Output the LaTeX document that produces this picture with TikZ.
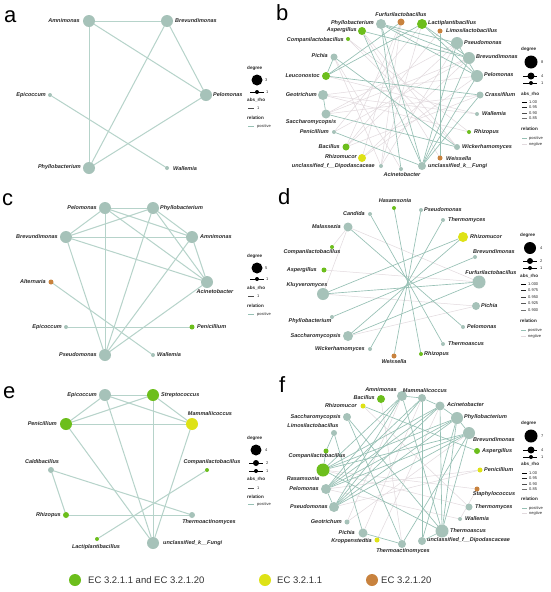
\documentclass[tikz,border=0pt]{standalone}
\usepackage{fontspec}
\setmainfont{Liberation Sans}
\usetikzlibrary{backgrounds}
\definecolor{ngrey}{RGB}{166,194,185}
\definecolor{ngreen}{RGB}{108,190,28}
\definecolor{nyellow}{RGB}{222,226,22}
\definecolor{norange}{RGB}{200,130,62}
\definecolor{epc}{RGB}{182,211,202}
\definecolor{epd}{RGB}{150,192,180}
\definecolor{eneg}{RGB}{226,218,222}
\definecolor{ltext}{RGB}{40,40,40}
\newcommand\mytaxon[9]{\node[#4, minimum size=#5pt] (#1) at (#2,#3) {}; \node[lbl, anchor=#6] (#1-l) at (#7,#8) {#9};}
\tikzset{
 nd/.style={circle, inner sep=0pt, outer sep=0pt, draw=none},
 ngr/.style={nd, fill=ngrey},
 ngn/.style={nd, fill=ngreen},
 nye/.style={nd, fill=nyellow},
 nor/.style={nd, fill=norange},
 nbk/.style={nd, fill=black},
 lbl/.style={inner sep=0pt, font=\fontsize{5.5}{6}\selectfont\bfseries\itshape, text=ltext},
 e1/.style={draw=epc, line width=1pt},
 ep/.style={draw=epd, line width=0.65pt},
 en/.style={draw=eneg, line width=0.5pt},
 legt/.style={inner sep=0pt, anchor=west, font=\fontsize{4.6}{5}\selectfont\bfseries, text=ltext},
 legn/.style={inner sep=0pt, anchor=west, font=\fontsize{4}{4.5}\selectfont, text=ltext},
 plet/.style={inner sep=0pt, anchor=base west, font=\fontsize{22}{22}\selectfont},
 ecl/.style={inner sep=0pt, anchor=west, font=\fontsize{9.5}{10}\selectfont, text=black!80},
}
\begin{document}
\begin{tikzpicture}[x=1pt, y=-1pt]
\useasboundingbox (0,0) rectangle (550,592);
% panel letters
\node[plet] (La) at (4,22) {a};
\node[plet] (Lb) at (276,20) {b};
\node[plet] (Lc) at (2,205) {c};
\node[plet] (Ld) at (278,204) {d};
\node[plet] (Le) at (3,398) {e};
\node[plet] (Lf) at (279,392) {f};

% ---------------- panel a
\mytaxon{a-amn}{89}{21}{ngr}{12}{east}{80}{21}{Amnimonas}
\mytaxon{a-bre}{167}{21}{ngr}{12}{west}{175}{21}{Brevundimonas}
\mytaxon{a-pel}{206}{95}{ngr}{12}{west}{213}{95}{Pelomonas}
\mytaxon{a-epi}{50}{95}{ngr}{4}{east}{46}{95}{Epicoccum}
\mytaxon{a-phy}{89}{168}{ngr}{12}{east}{81}{167}{Phyllobacterium}
\mytaxon{a-wal}{167}{168}{ngr}{4}{west}{173}{169}{Wallemia}

% ---------------- panel b
\mytaxon{b-phy}{381}{24}{ngr}{10}{east}{374}{23}{Phyllobacterium}
\mytaxon{b-fur}{401}{22}{nor}{7}{center}{401}{15}{Furfurilactobacillus}
\mytaxon{b-lac}{422}{24}{ngn}{10}{west}{428}{23}{Lactiplantibacillus}
\mytaxon{b-lim}{440}{31}{nor}{5}{west}{446}{31}{Limosilactobacillus}
\mytaxon{b-pse}{457}{43}{ngr}{12}{west}{464}{43}{Pseudomonas}
\mytaxon{b-bre}{469}{58}{ngr}{12}{west}{476}{57}{Brevundimonas}
\mytaxon{b-pel}{477}{76}{ngr}{12}{west}{484}{75}{Pelomonas}
\mytaxon{b-cra}{480}{95}{ngr}{7}{west}{485}{95}{Crassifilum}
\mytaxon{b-wal}{477}{114}{ngr}{4}{west}{482}{114}{Wallemia}
\mytaxon{b-rhp}{469}{132}{ngn}{4}{west}{474}{132}{Rhizopus}
\mytaxon{b-wic}{457}{147}{ngr}{6}{west}{462}{147}{Wickerhamomyces}
\mytaxon{b-wei}{440}{158}{nor}{5}{west}{446}{159}{Weissella}
\mytaxon{b-fun}{422}{166}{ngr}{8}{west}{428}{166}{unclassified\_k\_\_Fungi}
\mytaxon{b-aci}{401}{169}{ngr}{4}{center}{402}{175}{Acinetobacter}
\mytaxon{b-dip}{381}{166}{ngr}{4}{east}{375}{166}{unclassified\_f\_\_Dipodascaceae}
\mytaxon{b-rhm}{362}{158}{nye}{8}{east}{357}{157}{Rhizomucor}
\mytaxon{b-bac}{346}{147}{ngn}{7}{east}{340}{147}{Bacillus}
\mytaxon{b-pen}{334}{132}{ngr}{4}{east}{329}{132}{Penicillium}
\mytaxon{b-sac}{326}{114}{ngr}{9}{center}{311}{122}{Saccharomycopsis}
\mytaxon{b-geo}{323}{95}{ngr}{10}{east}{317}{95}{Geotrichum}
\mytaxon{b-leu}{326}{76}{ngn}{8}{east}{320}{76}{Leuconostoc}
\mytaxon{b-pic}{334}{57}{ngr}{7}{east}{328}{56}{Pichia}
\mytaxon{b-com}{348}{39}{ngn}{4}{east}{344}{40}{Companilactobacillus}
\mytaxon{b-asp}{362}{31}{ngn}{8}{east}{357}{30}{Aspergillus}

% ---------------- panel c
\mytaxon{c-pel}{105}{208}{ngr}{12}{east}{97}{208}{Pelomonas}
\mytaxon{c-phy}{153}{208}{ngr}{12}{west}{160}{208}{Phyllobacterium}
\mytaxon{c-bre}{66}{237}{ngr}{12}{east}{58}{237}{Brevundimonas}
\mytaxon{c-amn}{192}{237}{ngr}{12}{west}{200}{237}{Amnimonas}
\mytaxon{c-aci}{207}{282}{ngr}{12}{center}{215}{292}{Acinetobacter}
\mytaxon{c-alt}{51}{282}{nor}{5}{east}{46}{282}{Alternaria}
\mytaxon{c-epi}{66}{327}{ngr}{4}{east}{62}{327}{Epicoccum}
\mytaxon{c-pen}{192}{327}{ngn}{5}{west}{197}{327}{Penicillium}
\mytaxon{c-pse}{105}{355}{ngr}{12}{east}{97}{355}{Pseudomonas}
\mytaxon{c-wal}{153}{355}{ngr}{4}{west}{157}{355}{Wallemia}

% ---------------- panel d
\mytaxon{d-has}{394}{208}{ngn}{4}{center}{395}{201}{Hasamsonia}
\mytaxon{d-can}{370}{214}{ngr}{4}{east}{365}{214}{Candida}
\mytaxon{d-mal}{348}{227}{ngr}{9}{east}{341}{227}{Malassezia}
\mytaxon{d-com}{332}{247}{ngn}{4}{center}{312}{252}{Companilactobacillus}
\mytaxon{d-asp}{324}{270}{ngn}{5}{east}{317}{270}{Aspergillus}
\mytaxon{d-klu}{323}{294}{ngr}{12}{center}{307}{285}{Kluyveromyces}
\mytaxon{d-phy}{332}{317}{ngr}{4}{center}{310}{321}{Phyllobacterium}
\mytaxon{d-sac}{348}{336}{ngr}{10}{east}{341}{336}{Saccharomycopsis}
\mytaxon{d-wic}{370}{349}{ngr}{4}{east}{365}{349}{Wickerhamomyces}
\mytaxon{d-wei}{394}{356}{nor}{5}{center}{394}{362}{Weissella}
\mytaxon{d-pse}{421}{210}{ngr}{4}{west}{424}{210}{Pseudomonas}
\mytaxon{d-thy}{443}{220}{ngr}{4}{west}{448}{220}{Thermomyces}
\mytaxon{d-rhm}{463}{237}{nye}{10}{west}{470}{237}{Rhizomucor}
\mytaxon{d-bre}{475}{257}{ngr}{4}{center}{494}{252}{Brevundimonas}
\mytaxon{d-fur}{479}{282}{ngr}{13}{center}{491}{273}{Furfurilactobacillus}
\mytaxon{d-pic}{476}{306}{ngr}{8}{west}{481}{306}{Pichia}
\mytaxon{d-pel}{463}{327}{ngr}{4}{west}{467}{327}{Pelomonas}
\mytaxon{d-tha}{443}{344}{ngr}{4}{west}{448}{344}{Thermoascus}
\mytaxon{d-rhp}{421}{354}{ngn}{4}{west}{424}{354}{Rhizopus}

% ---------------- panel e
\mytaxon{e-epi}{105}{395}{ngr}{12}{east}{97}{395}{Epicoccum}
\mytaxon{e-str}{153}{395}{ngn}{12}{west}{161}{395}{Streptococcus}
\mytaxon{e-pen}{66}{424}{ngn}{12}{east}{57}{424}{Penicillium}
\mytaxon{e-mam}{192}{424}{nye}{12}{center}{210}{414}{Mammaliicoccus}
\mytaxon{e-cal}{51}{470}{ngr}{6}{center}{42}{462}{Caldibacillus}
\mytaxon{e-com}{207}{470}{ngn}{4}{center}{212}{462}{Companilactobacillus}
\mytaxon{e-rhp}{66}{515}{ngn}{6}{east}{61}{515}{Rhizopus}
\mytaxon{e-the}{192}{515}{ngr}{6}{center}{209}{522}{Thermoactinomyces}
\mytaxon{e-lac}{97}{539}{ngn}{4}{center}{96}{547}{Lactiplantibacillus}
\mytaxon{e-fun}{153}{543}{ngr}{12}{west}{163}{543}{unclassified\_k\_\_Fungi}

% ---------------- panel f
\mytaxon{f-amn}{402}{396}{ngr}{10}{center}{381}{390}{Amnimonas}
\mytaxon{f-bac}{381}{399}{ngn}{8}{east}{375}{398}{Bacillus}
\mytaxon{f-rhm}{363}{406}{nye}{5}{east}{357}{406}{Rhizomucor}
\mytaxon{f-sac}{347}{417}{ngr}{8}{east}{341}{417}{Saccharomycopsis}
\mytaxon{f-lim}{334}{433}{ngr}{6}{center}{313}{426}{Limosilactobacillus}
\mytaxon{f-com}{326}{451}{ngn}{5}{center}{317}{456}{Companilactobacillus}
\mytaxon{f-ras}{323}{470}{ngn}{13}{center}{303}{479}{Rasamsonia}
\mytaxon{f-pel}{326}{489}{ngr}{10}{east}{319}{489}{Pelomonas}
\mytaxon{f-pse}{334}{507}{ngr}{10}{east}{328}{507}{Pseudomonas}
\mytaxon{f-geo}{347}{522}{ngr}{5}{east}{342}{522}{Geotrichum}
\mytaxon{f-pic}{363}{533}{ngr}{9}{east}{355}{533}{Pichia}
\mytaxon{f-kro}{377}{540}{nye}{5}{east}{372}{541}{Kroppenstedtia}
\mytaxon{f-tac}{402}{544}{ngr}{8}{center}{403}{551}{Thermoactinomyces}
\mytaxon{f-dip}{422}{541}{ngr}{8}{west}{427}{540}{unclassified\_f\_\_Dipodascaceae}
\mytaxon{f-tas}{442}{531}{ngr}{13}{west}{450}{531}{Thermoascus}
\mytaxon{f-wal}{460}{519}{ngr}{4}{west}{465}{519}{Wallemia}
\mytaxon{f-thy}{469}{507}{ngr}{7}{west}{475}{507}{Thermomyces}
\mytaxon{f-sta}{477}{489}{nor}{5}{center}{494}{494}{Staphylococcus}
\mytaxon{f-pen}{480}{470}{nye}{5}{west}{484}{470}{Penicillium}
\mytaxon{f-asp}{477}{451}{ngn}{6}{west}{482}{451}{Aspergillus}
\mytaxon{f-bre}{469}{433}{ngr}{12}{center}{494}{440}{Brevundimonas}
\mytaxon{f-phy}{457}{418}{ngr}{12}{west}{464}{417}{Phyllobacterium}
\mytaxon{f-aci}{440}{406}{ngr}{9}{west}{447}{405}{Acinetobacter}
\mytaxon{f-mam}{422}{398}{ngr}{8}{center}{425}{391}{Mammaliicoccus}

% ---------------- legends type 1 (a, c, e)
% a
\node[legt] (a-g1) at (247,68) {degree};
\node[nbk, minimum size=11pt] (a-g2) at (257,80) {};
\node[legn] (a-g3) at (265,80) {3};
\draw[black, line width=0.6pt] (250,92) -- (264,92);
\node[nbk, minimum size=4pt] (a-g4) at (257,92) {};
\node[legn] (a-g5) at (266,92) {1};
\node[legt] (a-g6) at (247,100) {abs\_rho};
\draw[black!70, line width=0.5pt] (248,108) -- (254,108);
\node[legn] (a-g7) at (257,108) {1};
\node[legt] (a-g8) at (247,118) {relation};
\draw[epd, line width=0.6pt] (248,126) -- (254,126);
\node[legn] (a-g9) at (257,126) {positive};
% c
\node[legt] (c-g1) at (247,256) {degree};
\node[nbk, minimum size=11pt] (c-g2) at (257,268) {};
\node[legn] (c-g3) at (265,268) {5};
\draw[black, line width=0.6pt] (250,279) -- (264,279);
\node[nbk, minimum size=4pt] (c-g4) at (257,279) {};
\node[legn] (c-g5) at (266,279) {1};
\node[legt] (c-g6) at (247,288) {abs\_rho};
\draw[black!70, line width=0.5pt] (248,296) -- (254,296);
\node[legn] (c-g7) at (257,296) {1};
\node[legt] (c-g8) at (247,306) {relation};
\draw[epd, line width=0.6pt] (248,314) -- (254,314);
\node[legn] (c-g9) at (257,314) {positive};
% e
\node[legt] (e-g1) at (247,438) {degree};
\node[nbk, minimum size=11pt] (e-g2) at (256,450) {};
\node[legn] (e-g3) at (265,450) {4};
\draw[black, line width=0.6pt] (249,463) -- (263,463);
\node[nbk, minimum size=6pt] (e-g4) at (256,463) {};
\node[legn] (e-g5) at (266,463) {2};
\draw[black, line width=0.6pt] (249,471) -- (263,471);
\node[nbk, minimum size=4pt] (e-g4b) at (256,471) {};
\node[legn] (e-g5b) at (266,471) {1};
\node[legt] (e-g6) at (247,479) {abs\_rho};
\draw[black!70, line width=0.5pt] (248,488) -- (254,488);
\node[legn] (e-g7) at (257,488) {1};
\node[legt] (e-g8) at (247,497) {relation};
\draw[epd, line width=0.6pt] (248,504) -- (254,504);
\node[legn] (e-g9) at (257,504) {positive};

% ---------------- legends type 2 (b, d, f)
% b
\node[legt] (b-g1) at (521,49) {degree};
\node[nbk, minimum size=13pt] (b-g2) at (531,62) {};
\node[legn] (b-g3) at (541,62) {8};
\draw[black, line width=0.6pt] (523,76) -- (537,76);
\node[nbk, minimum size=7pt] (b-g4) at (531,76) {};
\node[legn] (b-g5) at (541,76) {4};
\draw[black, line width=0.6pt] (523,83) -- (537,83);
\node[nbk, minimum size=4pt] (b-g6) at (531,83) {};
\node[legn] (b-g7) at (541,83) {1};
\node[legt] (b-g8) at (521,94) {abs\_rho};
\draw[black, line width=0.9pt] (522,102) -- (527,102); \node[legn] (b-v1) at (529,102) {1.00};
\draw[black!85, line width=0.7pt] (522,107.5) -- (527,107.5); \node[legn] (b-v2) at (529,107.5) {0.95};
\draw[black!70, line width=0.5pt] (522,113) -- (527,113); \node[legn] (b-v3) at (529,113) {0.90};
\draw[black!55, line width=0.35pt] (522,118.5) -- (527,118.5); \node[legn] (b-v4) at (529,118.5) {0.85};
\node[legt] (b-g9) at (521,129) {relation};
\draw[epd, line width=0.6pt] (522,138) -- (527,138); \node[legn] (b-r1) at (529,138) {positive};
\draw[eneg, line width=0.6pt] (522,144) -- (527,144); \node[legn] (b-r2) at (529,144) {negtive};
% d
\node[legt] (d-g1) at (520,235) {degree};
\node[nbk, minimum size=12pt] (d-g2) at (530,248) {};
\node[legn] (d-g3) at (540,248) {4};
\draw[black, line width=0.6pt] (523,261) -- (537,261);
\node[nbk, minimum size=6pt] (d-g4) at (530,261) {};
\node[legn] (d-g5) at (540,261) {2};
\draw[black, line width=0.6pt] (523,268) -- (537,268);
\node[nbk, minimum size=4pt] (d-g6) at (530,268) {};
\node[legn] (d-g7) at (540,268) {1};
\node[legt] (d-g8) at (520,276) {abs\_rho};
\draw[black, line width=0.9pt] (521,284) -- (526,284); \node[legn] (d-v1) at (528,284) {1.000};
\draw[black!85, line width=0.75pt] (521,290.5) -- (526,290.5); \node[legn] (d-v2) at (528,290.5) {0.975};
\draw[black!75, line width=0.6pt] (521,297) -- (526,297); \node[legn] (d-v3) at (528,297) {0.950};
\draw[black!65, line width=0.45pt] (521,303.5) -- (526,303.5); \node[legn] (d-v4) at (528,303.5) {0.925};
\draw[black!55, line width=0.35pt] (521,310) -- (526,310); \node[legn] (d-v5) at (528,310) {0.900};
\node[legt] (d-g9) at (520,321) {relation};
\draw[epd, line width=0.6pt] (521,330) -- (526,330); \node[legn] (d-r1) at (528,330) {positive};
\draw[eneg, line width=0.6pt] (521,336) -- (526,336); \node[legn] (d-r2) at (528,336) {negtive};
% f
\node[legt] (f-g1) at (521,423) {degree};
\node[nbk, minimum size=13pt] (f-g2) at (531,436) {};
\node[legn] (f-g3) at (541,436) {7};
\draw[black, line width=0.6pt] (523,450) -- (537,450);
\node[nbk, minimum size=7pt] (f-g4) at (531,450) {};
\node[legn] (f-g5) at (541,450) {4};
\draw[black, line width=0.6pt] (523,457) -- (537,457);
\node[nbk, minimum size=4pt] (f-g6) at (531,457) {};
\node[legn] (f-g7) at (541,457) {1};
\node[legt] (f-g8) at (521,464) {abs\_rho};
\draw[black, line width=0.9pt] (522,473) -- (527,473); \node[legn] (f-v1) at (529,473) {1.00};
\draw[black!85, line width=0.7pt] (522,478.5) -- (527,478.5); \node[legn] (f-v2) at (529,478.5) {0.95};
\draw[black!70, line width=0.5pt] (522,484) -- (527,484); \node[legn] (f-v3) at (529,484) {0.90};
\draw[black!55, line width=0.35pt] (522,489.5) -- (527,489.5); \node[legn] (f-v4) at (529,489.5) {0.85};
\node[legt] (f-g9) at (521,499) {relation};
\draw[epd, line width=0.6pt] (522,508) -- (527,508); \node[legn] (f-r1) at (529,508) {positive};
\draw[eneg, line width=0.6pt] (522,513) -- (527,513); \node[legn] (f-r2) at (529,513) {negtive};

% ---------------- bottom legend
\node[ngn, minimum size=12pt] (k1) at (75,580) {};
\node[ecl] (k1t) at (88,580) {EC 3.2.1.1 and EC 3.2.1.20};
\node[nye, minimum size=12pt] (k2) at (265,580) {};
\node[ecl] (k2t) at (277,580) {EC 3.2.1.1};
\node[nor, minimum size=12pt] (k3) at (372,580) {};
\node[ecl] (k3t) at (381,580) {EC 3.2.1.20};

% ---------------- edges
\begin{scope}[on background layer]
\fill[white] (0,0) rectangle (550,592);
% a
\foreach \u/\v in {a-amn/a-bre, a-amn/a-pel, a-amn/a-phy, a-bre/a-pel, a-bre/a-phy, a-phy/a-pel, a-epi/a-wal}
  \draw[e1] (\u) -- (\v);
% c
\foreach \u/\v in {c-pel/c-phy, c-pel/c-bre, c-pel/c-amn, c-pel/c-aci, c-pel/c-pse,
  c-phy/c-bre, c-phy/c-amn, c-phy/c-aci, c-phy/c-pse, c-bre/c-amn, c-bre/c-aci, c-bre/c-pse,
  c-amn/c-aci, c-amn/c-pse, c-aci/c-pse, c-alt/c-wal, c-epi/c-pen}
  \draw[e1] (\u) -- (\v);
% e
\foreach \u/\v in {e-epi/e-str, e-epi/e-pen, e-epi/e-mam, e-epi/e-fun, e-str/e-pen, e-str/e-mam,
  e-str/e-fun, e-pen/e-mam, e-pen/e-fun, e-mam/e-fun, e-cal/e-rhp, e-cal/e-the, e-rhp/e-the, e-com/e-lac}
  \draw[e1] (\u) -- (\v);
% b negative
\foreach \u/\v in {b-bac/b-pse, b-rhm/b-bre, b-dip/b-lac, b-rhm/b-fur, b-bac/b-fur, b-geo/b-pel,
  b-sac/b-bre, b-geo/b-wal, b-com/b-wic, b-pen/b-bre, b-dip/b-pse, b-bac/b-cra, b-rhm/b-pel,
  b-asp/b-wei, b-com/b-rhp, b-pic/b-dip, b-geo/b-rhp, b-sac/b-cra, b-leu/b-wal, b-dip/b-fur,
  b-pen/b-lac, b-sac/b-pse, b-bac/b-lim, b-aci/b-pic, b-wic/b-asp}
  \draw[en] (\u) -- (\v);
% b positive
\foreach \u/\v in {b-phy/b-pse, b-phy/b-bre, b-phy/b-pel, b-phy/b-aci, b-fur/b-leu, b-lac/b-leu,
  b-lac/b-pel, b-lac/b-bre, b-leu/b-cra, b-pic/b-wic, b-sac/b-wic, b-pen/b-fun, b-lim/b-wei,
  b-pse/b-fun, b-bre/b-fun, b-pel/b-fun, b-asp/b-fun, b-cra/b-fun, b-pic/b-leu, b-geo/b-sac,
  b-phy/b-fun, b-asp/b-bre, b-pse/b-pel}
  \draw[ep] (\u) -- (\v);
% d negative
\foreach \u/\v in {d-mal/d-com, d-klu/d-pic, d-mal/d-fur, d-klu/d-mal, d-sac/d-pic, d-asp/d-fur}
  \draw[en] (\u) -- (\v);
% d positive
\foreach \u/\v in {d-klu/d-fur, d-klu/d-rhm, d-sac/d-rhm, d-phy/d-bre, d-wic/d-thy, d-wei/d-pse,
  d-can/d-tha, d-has/d-rhp, d-mal/d-pel, d-sac/d-fur}
  \draw[ep] (\u) -- (\v);
% f negative
\foreach \u/\v in {f-pen/f-pse, f-sta/f-wal, f-sta/f-ras, f-thy/f-ras, f-wal/f-pel, f-geo/f-bre,
  f-kro/f-aci, f-pic/f-mam, f-geo/f-amn, f-pen/f-pel, f-bac/f-tac, f-rhm/f-thy}
  \draw[en] (\u) -- (\v);
% f positive
\foreach \u/\v in {f-rhm/f-asp, f-amn/f-pse, f-amn/f-pel, f-amn/f-tas, f-amn/f-ras,
  f-mam/f-pse, f-mam/f-pel, f-mam/f-dip, f-aci/f-pel, f-aci/f-ras, f-aci/f-pse, f-aci/f-tas,
  f-phy/f-pse, f-phy/f-pel, f-phy/f-ras, f-phy/f-tas, f-phy/f-dip, f-bre/f-pse, f-bre/f-ras,
  f-bre/f-pel, f-bre/f-tas, f-bre/f-tac, f-sac/f-tac, f-sac/f-tas, f-lim/f-pic, f-lim/f-com,
  f-com/f-ras, f-ras/f-tas, f-amn/f-mam, f-mam/f-aci, f-aci/f-phy, f-phy/f-bre, f-tas/f-dip,
  f-pse/f-pel, f-pic/f-tac}
  \draw[ep] (\u) -- (\v);
\end{scope}
\end{tikzpicture}
\end{document}
